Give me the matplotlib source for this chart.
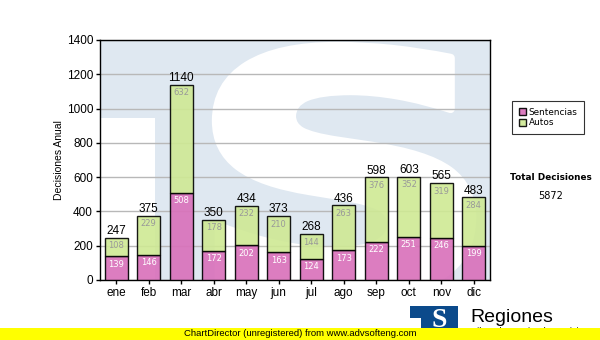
import matplotlib
matplotlib.use("Agg")
import matplotlib.pyplot as plt
import numpy as np
from matplotlib.patches import Rectangle, PathPatch
from matplotlib.textpath import TextPath
from matplotlib.font_manager import FontProperties
from matplotlib.transforms import Affine2D

plt.rcParams["font.family"] = ["Liberation Sans", "DejaVu Sans"]

meses = ["ene", "feb", "mar", "abr", "may", "jun", "jul", "ago", "sep", "oct", "nov", "dic"]
sentencias = [139, 146, 508, 172, 202, 163, 124, 173, 222, 251, 246, 199]
autos = [108, 229, 632, 178, 232, 210, 144, 263, 376, 352, 319, 284]
totales = [247, 375, 1140, 350, 434, 373, 268, 436, 598, 603, 565, 483]
total_decisiones = 5872

W, H = 600, 340
fig = plt.figure(figsize=(6, 3.4), dpi=100)
fig.patch.set_facecolor("white")


def px_axes(x0, y0, x1, y1):
    # box given in pixels from top-left corner
    return [x0 / W, 1 - y1 / H, (x1 - x0) / W, (y1 - y0) / H]


ax = fig.add_axes(px_axes(100, 40, 490, 280))
ax.set_facecolor("#dfe8f1")

# watermark: white "S" and left gap over the blue background
ax.add_patch(Rectangle(((100 - 100) / 390, 0), (155 - 100) / 390, (280 - 118) / 240,
                       transform=ax.transAxes, fc="white", ec="none", zorder=0.2))
sp = TextPath((0, 0), "S", size=1, prop=FontProperties(family="DejaVu Sans", weight="bold"))
ext = sp.get_extents()
bx0, bx1 = (216 - 100) / 390, (472 - 100) / 390
by0, by1 = (280 - 296) / 240, (280 - 46) / 240
tr = Affine2D().translate(-ext.x0, -ext.y0).scale((bx1 - bx0) / ext.width, (by1 - by0) / ext.height).translate(bx0, by0)
ax.add_patch(PathPatch(tr.transform_path(sp), transform=ax.transAxes, fc="white", ec="white", lw=6,
                       joinstyle="round", zorder=0.3))

x = np.arange(len(meses))
ancho = 0.7
b1 = ax.bar(x, sentencias, ancho, color="#d972bb", alpha=0.92, edgecolor="black", linewidth=1.0, zorder=3,
            label="Sentencias")
b2 = ax.bar(x, autos, ancho, bottom=sentencias, color="#cfe994", alpha=0.9, edgecolor="black", linewidth=1.0,
            zorder=3, label="Autos")

for i in range(len(meses)):
    ax.annotate(str(sentencias[i]), (x[i], sentencias[i]), xytext=(0, -2.5), textcoords="offset points",
                ha="center", va="top", fontsize=6, color="white", family="DejaVu Sans", zorder=5)
    ax.annotate(str(autos[i]), (x[i], totales[i]), xytext=(0, -2.5), textcoords="offset points",
                ha="center", va="top", fontsize=6, color="#999999", family="DejaVu Sans", zorder=5)
    ax.annotate(str(totales[i]), (x[i], totales[i]), xytext=(0, 0.5), textcoords="offset points",
                ha="center", va="bottom", fontsize=8.5, color="black", zorder=5)

ax.set_xlim(-0.5, len(meses) - 0.5)
ax.set_ylim(0, 1400)
ax.set_yticks(np.arange(0, 1401, 200))
ax.set_xticks(x)
ax.set_xticklabels(meses)
ax.tick_params(axis="both", labelsize=8.5, length=3, width=1, direction="out", pad=2)
ax.yaxis.grid(True, color="#b8b8b8", linewidth=1, zorder=1)
ax.set_axisbelow(True)
for s in ax.spines.values():
    s.set_color("black")
    s.set_linewidth(1)
ax.set_ylabel("Decisiones Anual", fontsize=7.5, labelpad=1.5)

leg = fig.legend(handles=[b1, b2], labels=["Sentencias", "Autos"], loc="upper left",
                 bbox_to_anchor=(512 / W, 1 - 101 / H), frameon=True, fancybox=False,
                 prop=FontProperties(family="DejaVu Sans", size=6.4),
                 handlelength=0.8, handleheight=0.8, handletextpad=0.3, borderpad=0.75, labelspacing=0.2,
                 borderaxespad=0)
leg.get_frame().set_edgecolor("black")
leg.get_frame().set_linewidth(0.8)

fig.text(551 / W, 1 - 177 / H, "Total Decisiones", ha="center", va="center", fontsize=6.4, fontweight="bold",
         family="DejaVu Sans")
fig.text(551 / W, 1 - 196 / H, str(total_decisiones), ha="center", va="center", fontsize=7,
         family="DejaVu Sans")

# footer logo and name
lg = fig.add_axes(px_axes(410, 306, 458, 332))
lg.set_xlim(0, 1)
lg.set_ylim(0, 1)
lg.axis("off")
lg.add_patch(Rectangle((0, 0), 1, 1, fc="#0b4a8b", ec="none"))
lg.add_patch(Rectangle((0, 0), 0.22, 0.55, fc="white", ec="none"))
lg.text(0.6, 0.45, "S", ha="center", va="center", fontsize=20, fontweight="bold", color="white",
        family="Liberation Serif")
fig.text(470 / W, 1 - 317 / H, "Regiones", ha="left", va="center", fontsize=14)
fig.text(469 / W, 1 - 332 / H, "Tribunal Superior de Justicia", ha="left", va="center", fontsize=6.5)

# yellow strip at the bottom
fig.patches.append(Rectangle((0, 0), 1, 12 / H, transform=fig.transFigure, fc="#ffff00", ec="none", zorder=10))
fig.text(300 / W, 6 / H, "ChartDirector (unregistered) from www.advsofteng.com", ha="center", va="center",
         fontsize=6.8, zorder=11)

fig.savefig("out.png", dpi=100)
